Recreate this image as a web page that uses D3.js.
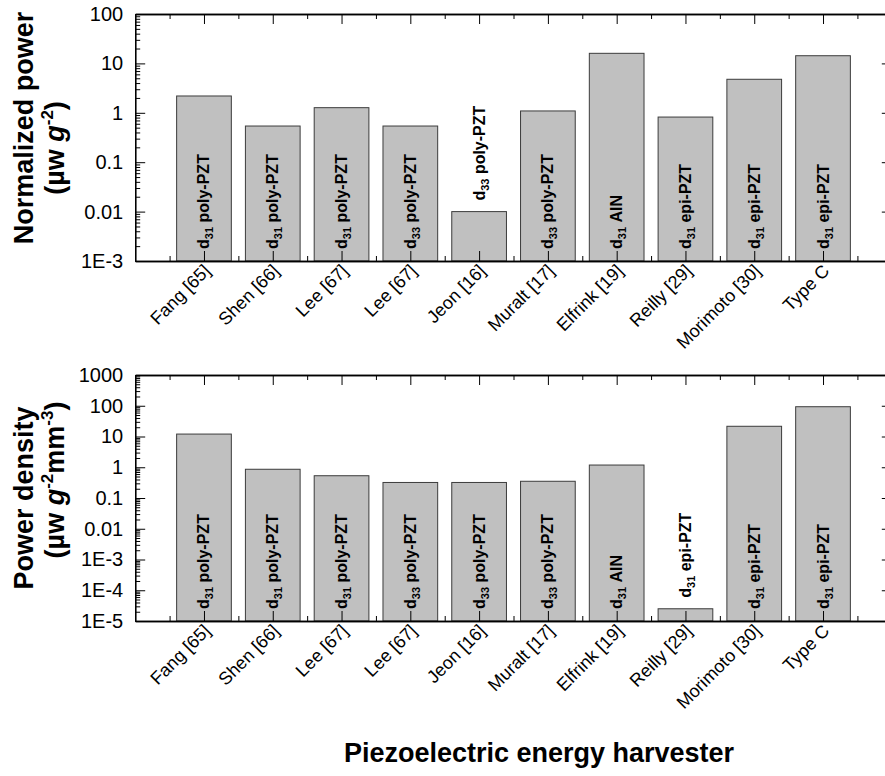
<!DOCTYPE html>
<html>
<head>
<meta charset="utf-8">
<script src="https://cdn.jsdelivr.net/npm/d3@7"></script>
<style>
  html, body { margin: 0; padding: 0; background: #fff; }
  svg { display: block; font-family: Arial, "Liberation Sans", Helvetica, sans-serif; }
</style>
</head>
<body>
<svg id="chart" width="885" height="776"></svg>
<script>
// Harvester references along the x axis
const categories = ["Fang [65]", "Shen [66]", "Lee [67]", "Lee [67]", "Jeon [16]",
                    "Muralt [17]", "Elfrink [19]", "Reilly [29]", "Morimoto [30]", "Type C"];
// Piezoelectric mode (subscript of d) and material for each harvester
const modes = ["31", "31", "31", "33", "33", "33", "31", "31", "31", "31"];
const materials = ["poly-PZT", "poly-PZT", "poly-PZT", "poly-PZT", "poly-PZT",
                   "poly-PZT", "AlN", "epi-PZT", "epi-PZT", "epi-PZT"];
// Normalized power, µW/g²
const normalizedPower = [2.19, 0.54, 1.27, 0.54, 0.01, 1.09, 16, 0.82, 4.77, 14.3];
// Power density, µW/(g²·mm³)
const powerDensity = [12, 0.86, 0.53, 0.32, 0.32, 0.35, 1.18, 2.5e-5, 21.5, 93];
// Decade tick values and their labels
const topTicks = [1e-3, 1e-2, 0.1, 1, 10, 100];
const topTickLabels = ["1E-3", "0.01", "0.1", "1", "10", "100"];
const bottomTicks = [1e-5, 1e-4, 1e-3, 1e-2, 0.1, 1, 10, 100, 1000];
const bottomTickLabels = ["1E-5", "1E-4", "1E-3", "0.01", "0.1", "1", "10", "100", "1000"];
const xTitle = "Piezoelectric energy harvester";

const svg = d3.select("#chart");

// Categories sit at 1..10, with half a slot of padding beyond the outer bars
const x = d3.scaleLinear().domain([0, categories.length + 1]).range([135.2, 891.8]);
const barW = 54.7;
const idx = d3.range(categories.length);

function minorLogTicks(lo, hi) {
  const out = [];
  for (let e = Math.round(Math.log10(lo)); e < Math.round(Math.log10(hi)); e++) {
    for (let k = 2; k <= 9; k++) out.push(k * Math.pow(10, e));
  }
  return out;
}

function styleAxis(g) {
  g.selectAll("path.domain").attr("stroke", "#000").attr("stroke-width", 1.3);
  g.selectAll(".tick line").attr("stroke", "#000").attr("stroke-width", 1);
}

function drawPanel(opts) {
  const { values, ticks, tickLabels, yRange, titleLines } = opts;
  const y = d3.scaleLog().domain([ticks[0], ticks[ticks.length - 1]]).range(yRange);
  const yBottom = yRange[0], yTop = yRange[1];
  const g = svg.append("g");

  // Bars
  g.selectAll("rect.bar").data(idx).enter().append("rect")
    .attr("class", "bar")
    .attr("x", i => x(i + 1) - barW / 2)
    .attr("width", barW)
    .attr("y", i => y(values[i]))
    .attr("height", i => yBottom - y(values[i]))
    .attr("fill", "#c0c0c0")
    .attr("stroke", "#3c3c3c")
    .attr("stroke-width", 1);

  // Vertical labels: inside the bar near its base, or above the bar when it is too short
  idx.forEach(i => {
    const cx = x(i + 1);
    const t = g.append("text")
      .attr("font-size", 16)
      .attr("font-weight", "bold")
      .attr("fill", "#000")
      .attr("text-anchor", "start");
    t.append("tspan").text("d");
    t.append("tspan").attr("font-size", 11).attr("dy", 4).text(modes[i]);
    t.append("tspan").attr("dy", -4).text("\u00a0" + materials[i]);
    const len = t.node().getComputedTextLength();
    const barH = yBottom - y(values[i]);
    const startY = barH < len + 24 ? y(values[i]) - 11 : yBottom - 12;
    t.attr("transform", `translate(${cx + 5.5},${startY}) rotate(-90)`);
  });

  // Left axis: decades with labels, minor ticks in between
  const minors = minorLogTicks(ticks[0], ticks[ticks.length - 1]);
  g.append("g").attr("transform", `translate(${x(0)},0)`)
    .call(d3.axisLeft(y).tickValues(minors).tickSizeInner(-5).tickSizeOuter(0).tickFormat(""))
    .call(styleAxis);
  const left = g.append("g").attr("transform", `translate(${x(0)},0)`)
    .call(d3.axisLeft(y).tickValues(ticks).tickSizeInner(-10).tickSizeOuter(0).tickPadding(12)
      .tickFormat((d, i) => tickLabels[i]))
    .call(styleAxis);
  left.selectAll("text").attr("font-size", 20).attr("fill", "#000")
    .attr("font-family", "Arial, 'Liberation Sans', sans-serif");

  // Right axis (mirror ticks)
  g.append("g").attr("transform", `translate(${x(categories.length + 1)},0)`)
    .call(d3.axisRight(y).tickValues(ticks).tickSizeInner(-10).tickSizeOuter(0).tickFormat(""))
    .call(styleAxis);

  // Top axis
  const halfSteps = d3.range(0.5, categories.length + 1, 1);
  const centers = idx.map(i => i + 1);
  g.append("g").attr("transform", `translate(0,${yTop})`)
    .call(d3.axisTop(x).tickValues(halfSteps).tickSizeInner(-5).tickSizeOuter(0).tickFormat(""))
    .call(styleAxis);
  g.append("g").attr("transform", `translate(0,${yTop})`)
    .call(d3.axisTop(x).tickValues(centers).tickSizeInner(-10).tickSizeOuter(0).tickFormat(""))
    .call(styleAxis);

  // Bottom axis with slanted category names
  g.append("g").attr("transform", `translate(0,${yBottom})`)
    .call(d3.axisBottom(x).tickValues(halfSteps).tickSizeInner(-5).tickSizeOuter(0).tickFormat(""))
    .call(styleAxis);
  const bottom = g.append("g").attr("transform", `translate(0,${yBottom})`)
    .call(d3.axisBottom(x).tickValues(centers).tickSizeInner(-10).tickSizeOuter(0)
      .tickFormat(d => categories[d - 1]))
    .call(styleAxis);
  bottom.selectAll("text")
    .attr("font-size", 18).attr("fill", "#000")
    .attr("font-family", "Arial, 'Liberation Sans', sans-serif")
    .attr("text-anchor", "end")
    .attr("x", 0).attr("y", 0).attr("dy", 0)
    .attr("transform", "translate(7,11) rotate(-45)");

  // Two-line vertical axis title
  titleLines.forEach(line => {
    const t = g.append("text")
      .attr("font-size", 27).attr("font-weight", "bold").attr("fill", "#000")
      .attr("text-anchor", "middle")
      .attr("transform", `translate(${line.x},${line.cy}) rotate(-90)`);
    line.parts.forEach(p => {
      const s = t.append("tspan").text(p.text);
      if (p.italic) s.attr("font-style", "italic");
      if (p.sup) s.attr("font-size", 17).attr("dy", -11);
      if (p.after) s.attr("dy", 11);
    });
  });
}

drawPanel({
  values: normalizedPower,
  ticks: topTicks,
  tickLabels: topTickLabels,
  yRange: [261, 14],
  titleLines: [
    { x: 33, cy: 128, parts: [{ text: "Normalized power" }] },
    { x: 64, cy: 148, parts: [{ text: "(\u00b5w " }, { text: "g", italic: true },
                              { text: "-2", sup: true }, { text: ")", after: true }] }
  ]
});

drawPanel({
  values: powerDensity,
  ticks: bottomTicks,
  tickLabels: bottomTickLabels,
  yRange: [621, 375],
  titleLines: [
    { x: 33, cy: 498, parts: [{ text: "Power density" }] },
    { x: 64, cy: 480, parts: [{ text: "(\u00b5w " }, { text: "g", italic: true },
                              { text: "-2", sup: true }, { text: "mm", after: true },
                              { text: "-3", sup: true }, { text: ")", after: true }] }
  ]
});

// X axis title
svg.append("text")
  .attr("x", 539).attr("y", 762)
  .attr("text-anchor", "middle")
  .attr("font-size", 27).attr("font-weight", "bold").attr("fill", "#000")
  .text(xTitle);
</script>
</body>
</html>
